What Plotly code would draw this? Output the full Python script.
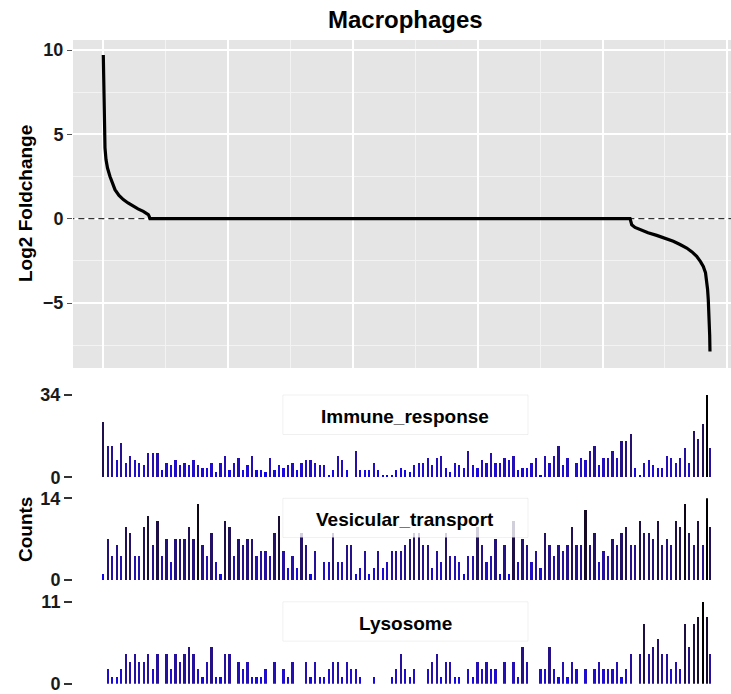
import plotly.graph_objects as go

# ---------------- data ----------------
# sorted log2 fold change curve (gene rank, value)
rank_pos = [0, 6, 14, 20, 34, 54, 84, 134, 184, 234, 314, 401, 495, 601, 695, 801, 865, 901, 921, 935]
lfc_pos = [9.7, 8.0, 6.3, 5.1, 4.2, 3.5, 3.0, 2.5, 2.05, 1.72, 1.38, 1.13, 0.93, 0.73, 0.58, 0.43, 0.33, 0.24, 0.12, 0.0]
rank_neg = [10551, 10585, 10650, 10750, 10911, 11085, 11251, 11417, 11552, 11686, 11792, 11886, 11962,
            12018, 12062, 12086, 12104, 12118, 12138, 12146, 12152]
lfc_neg = [0.0, -0.36, -0.52, -0.65, -0.83, -0.99, -1.16, -1.34, -1.53, -1.74, -1.97, -2.23, -2.55,
           -2.83, -3.2, -3.62, -4.2, -4.8, -6.0, -6.9, -7.87]

immune_response = [23, 13, 13, 7, 14, 6, 9, 7, 6, 5, 10, 10, 10, 3, 6, 5, 7, 5, 6, 5,
                   7, 5, 4, 4, 6, 2, 6, 9, 3, 6, 8, 3, 5, 9, 3, 3, 2, 8, 3, 5,
                   4, 5, 6, 3, 6, 7, 7, 6, 5, 5, 1, 3, 9, 7, 3, 0, 11, 3, 3, 3,
                   6, 3, 1, 1, 1, 3, 4, 3,
                   2, 5, 6, 6, 8, 5, 8, 9, 4, 2, 6, 5, 4, 11, 5, 4, 7, 6, 10, 6,
                   6, 8, 7, 9, 3, 4, 4, 6, 8, 1, 9, 6, 9, 13,
                   5, 8, 0, 6, 8, 7, 11, 13, 5, 8, 8, 11, 8, 15, 15, 18, 4, 1, 6, 7,
                   5, 4, 4, 9, 8, 6, 8, 12, 6, 19, 16, 22, 34, 12]
vesicular_transport = [1, 7, 4, 6, 4, 9, 8, 4, 4, 9, 11, 6, 10, 4, 7, 3, 7, 7, 7, 9,
                       7, 13, 6, 4, 8, 3, 1, 10, 9, 4, 7, 6, 7, 7, 4, 5, 5, 4, 8, 11,
                       5, 2, 4, 2, 8, 6, 1, 5, 0, 3, 3, 8, 3, 3, 6, 6, 1, 2, 5, 1,
                       2, 5, 2, 3, 5, 5, 5, 6,
                       7, 8, 8, 6, 6, 2, 5, 3, 8, 4, 4, 3, 1, 4, 4, 9, 6, 3, 4, 7,
                       1, 6, 1, 10, 3, 7, 6, 3, 5, 2, 8, 6, 4, 6,
                       5, 6, 9, 6, 6, 12, 6, 8, 3, 5, 4, 7, 6, 8, 9, 6, 6, 10, 8, 8,
                       7, 10, 6, 7, 6, 10, 9, 13, 8, 6, 10, 6, 14, 9]
lysosome = [0, 2, 1, 1, 2, 4, 3, 4, 3, 3, 4, 2, 4, 0, 4, 2, 4, 3, 4, 5,
            4, 2, 1, 3, 5, 1, 1, 4, 4, 0, 3, 2, 3, 1, 1, 1, 2, 0, 3, 0,
            2, 1, 3, 0, 0, 3, 1, 3, 1, 1, 2, 3, 3, 1, 3, 2, 2, 1, 0, 0,
            1, 0, 0, 0, 1, 2, 4, 2,
            1, 2, 0, 0, 2, 3, 4, 1, 3, 3, 1, 1, 0, 2, 1, 3, 2, 3, 2, 2,
            0, 3, 0, 3, 1, 5, 3, 0, 0, 2, 2, 5, 2, 1,
            3, 1, 3, 2, 0, 2, 0, 2, 3, 2, 2, 2, 3, 1, 2, 4, 0, 4, 8, 4,
            5, 6, 4, 4, 2, 3, 2, 8, 5, 8, 9, 11, 9, 4]
# bin positions (last bin is a partial one)
bins = list(range(1, 136)) + [135.6]

panels = [("Immune_response", immune_response, 34),
          ("Vesicular_transport", vesicular_transport, 14),
          ("Lysosome", lysosome, 11)]

# ---------------- colour helpers (Lab gradient blue -> black) ----------------
def _lin(c):
    c = c / 255.0
    return c / 12.92 if c <= 0.04045 else ((c + 0.055) / 1.055) ** 2.4

def _gam(c):
    c = max(0.0, min(1.0, c))
    v = 12.92 * c if c <= 0.0031308 else 1.055 * c ** (1 / 2.4) - 0.055
    return int(round(max(0, min(1, v)) * 255))

def rgb2lab(r, g, b):
    R, G, B = _lin(r), _lin(g), _lin(b)
    X = (0.4124 * R + 0.3576 * G + 0.1805 * B) / 0.95047
    Y = (0.2126 * R + 0.7152 * G + 0.0722 * B)
    Z = (0.0193 * R + 0.1192 * G + 0.9505 * B) / 1.08883
    f = lambda t: t ** (1 / 3) if t > 0.008856 else 7.787 * t + 16 / 116
    fx, fy, fz = f(X), f(Y), f(Z)
    return 116 * fy - 16, 500 * (fx - fy), 200 * (fy - fz)

def lab2rgb(L, a, b):
    fy = (L + 16) / 116
    fx = fy + a / 500
    fz = fy - b / 200
    finv = lambda t: t ** 3 if t ** 3 > 0.008856 else (t - 16 / 116) / 7.787
    X, Y, Z = 0.95047 * finv(fx), finv(fy), 1.08883 * finv(fz)
    R = 3.2406 * X - 1.5372 * Y - 0.4986 * Z
    G = -0.9689 * X + 1.8758 * Y + 0.0415 * Z
    B = 0.0557 * X - 0.2040 * Y + 1.0570 * Z
    return "rgb(%d,%d,%d)" % (_gam(R), _gam(G), _gam(B))

LOW = rgb2lab(0, 0, 255)
HIGH = rgb2lab(0, 0, 0)

def grad(t):
    return lab2rgb(*[LOW[k] + (HIGH[k] - LOW[k]) * t for k in range(3)])

# ---------------- geometry ----------------
W, H = 731, 694
FONT = "Liberation Sans, Arial, sans-serif"
xdom = [73 / W, 1.0]

def ydom(top_px, bot_px):
    return [1 - bot_px / H, 1 - top_px / H]

fig = go.Figure()

# zero dashed line then curve
fig.add_trace(go.Scatter(x=[-700, 13000], y=[0, 0], mode="lines",
                         line=dict(color="#333333", width=1.2, dash="6px,4px"),
                         hoverinfo="skip", showlegend=False, xaxis="x", yaxis="y"))
curve_x = rank_pos + rank_neg
curve_y = lfc_pos + lfc_neg
fig.add_trace(go.Scatter(x=curve_x, y=curve_y, mode="lines",
                         line=dict(color="black", width=3.2), showlegend=False,
                         xaxis="x", yaxis="y"))

axis_ids = ["2", "3", "4"]
for (name, vals, ymax), aid in zip(panels, axis_ids):
    mx = max(vals)
    colors = [grad(v / mx) for v in vals]
    fig.add_trace(go.Bar(x=bins, y=vals, width=0.5, marker=dict(color=colors, line=dict(width=0)),
                         showlegend=False, xaxis="x" + aid, yaxis="y" + aid))

grid_major = "#ffffff"
grid_minor = "#f3f3f3"
tickfont = dict(family=FONT, size=18, color="#1a1a1a", weight="bold")

layout = dict(
    width=W, height=H, margin=dict(l=0, r=0, t=0, b=0, autoexpand=False),
    paper_bgcolor="white", plot_bgcolor="rgba(0,0,0,0)",
    bargap=0, showlegend=False,
    xaxis=dict(domain=xdom, range=[-607, 12573], tickvals=[0, 2500, 5000, 7500, 10000, 12500],
               showticklabels=False, ticks="", showgrid=True, gridcolor=grid_major, gridwidth=2,
               minor=dict(tickvals=[1250, 3750, 6250, 8750, 11250], showgrid=True,
                          gridcolor=grid_minor, gridwidth=1),
               zeroline=False, showline=False, fixedrange=True, automargin=False),
    yaxis=dict(domain=ydom(40, 368), range=[-8.853, 10.593], tickvals=[-5, 0, 5, 10],
               ticktext=["\u22125", "0", "5", "10"], ticks="outside", ticklen=5, tickwidth=1.3,
               tickcolor="#555555", tickfont=tickfont, showgrid=True, gridcolor=grid_major,
               gridwidth=2, minor=dict(tickvals=[-7.5, -2.5, 2.5, 7.5], showgrid=True,
                                        gridcolor=grid_minor, gridwidth=1, ticks=""),
               zeroline=False, showline=False, automargin=False, ticklabeloverflow="allow"),
)

bar_px = {"2": (395.0, 477.3), "3": (498.3, 580.0), "4": (601.8, 683.8)}
for (name, vals, ymax), aid in zip(panels, axis_ids):
    top, bot = bar_px[aid]
    layout["xaxis" + aid] = dict(domain=xdom, range=[-5.72, 140.27], visible=False,
                                 anchor="y" + aid, automargin=False)
    layout["yaxis" + aid] = dict(domain=ydom(top, bot), range=[0, ymax], tickvals=[0, ymax],
                                 ticktext=[str(0), str(ymax)], ticks="outside", ticklen=8,
                                 tickwidth=1.5, tickcolor="#333333", tickfont=tickfont,
                                 showgrid=False, zeroline=False, showline=False,
                                 anchor="x" + aid, automargin=False, ticklabeloverflow="allow")
layout["xaxis"]["anchor"] = "y"
layout["yaxis"]["anchor"] = "x"
fig.update_layout(**layout)

# grey panel background
fig.add_shape(type="rect", xref="x domain", yref="y domain", x0=0, x1=1, y0=0, y1=1,
              fillcolor="#e5e5e5", line=dict(width=0), layer="below")

# label boxes and labels
for (name, vals, ymax), aid in zip(panels, axis_ids):
    fig.add_shape(type="rect", xref="x%s domain" % aid, yref="y%s domain" % aid,
                  x0=0.319, x1=0.6915, y0=0.52, y1=1.0,
                  fillcolor="rgba(255,255,255,0.8)", line=dict(color="rgba(0,0,0,0.06)", width=1),
                  layer="above")
    fig.add_annotation(text=name, xref="x%s domain" % aid, yref="y%s domain" % aid,
                       x=0.505, y=0.74, showarrow=False, xanchor="center", yanchor="middle",
                       font=dict(family=FONT, size=19, color="black", weight="bold"))

fig.add_annotation(text="Macrophages", xref="paper", yref="paper", x=405 / W, y=1 - 20 / H,
                   showarrow=False, xanchor="center", yanchor="middle",
                   font=dict(family=FONT, size=24, color="black", weight="bold"))
fig.add_annotation(text="Log2 Foldchange", xref="paper", yref="paper", x=25 / W, y=1 - 204 / H,
                   showarrow=False, textangle=-90, xanchor="center", yanchor="middle",
                   font=dict(family=FONT, size=19, color="black", weight="bold"))
fig.add_annotation(text="Counts", xref="paper", yref="paper", x=25 / W, y=1 - 530 / H,
                   showarrow=False, textangle=-90, xanchor="center", yanchor="middle",
                   font=dict(family=FONT, size=19, color="black", weight="bold"))

fig.write_html("out.html")
